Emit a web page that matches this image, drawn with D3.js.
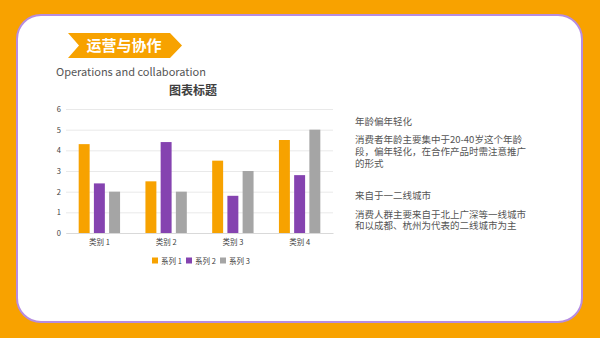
<!DOCTYPE html>
<html>
<head>
<meta charset="utf-8">
<title>运营与协作</title>
<script src="https://d3js.org/d3.v7.min.js"></script>
<style>
  body { margin: 0; background: #F8A200; font-family: "Noto Sans CJK SC", "Noto Sans", sans-serif; }
  svg { display: block; }
</style>
</head>
<body>
<div id="slide"></div>
<script>
// chart data
var categories = ["类别 1", "类别 2", "类别 3", "类别 4"];
var seriesNames = ["系列 1", "系列 2", "系列 3"];
var series1 = [4.3, 2.5, 3.5, 4.5];
var series2 = [2.4, 4.4, 1.8, 2.8];
var series3 = [2, 2, 3, 5];
var yTicks = [0, 1, 2, 3, 4, 5, 6];
var colors = ["#F7A200", "#8543B0", "#A5A5A5"];

var noteHeads = ["年龄偏年轻化", "来自于一二线城市"];
var noteBodies = [
  ["消费者年龄主要集中于20-40岁这个年龄", "段，偏年轻化，在合作产品时需注意推广", "的形式"],
  ["消费人群主要来自于北上广深等一线城市", "和以成都、杭州为代表的二线城市为主"]
];

var W = 600, H = 338;
var svg = d3.select("#slide").append("svg").attr("width", W).attr("height", H);

svg.append("rect").attr("width", W).attr("height", H).attr("fill", "#F8A200");

// white card with purple edge
svg.append("rect")
  .attr("x", 17).attr("y", 15).attr("width", 565).attr("height", 307)
  .attr("rx", 24).attr("ry", 24)
  .attr("fill", "#fff").attr("stroke", "#B68DE0").attr("stroke-width", 2);

// header banner
svg.append("polygon")
  .attr("points", "68,33 170,33 182,45.5 170,58 68,58 79,45.5")
  .attr("fill", "#F7A200");
svg.append("text").attr("x", 124).attr("y", 51)
  .attr("text-anchor", "middle").attr("fill", "#fff")
  .attr("font-size", 15).attr("font-weight", "bold")
  .text("运营与协作");
svg.append("text").attr("x", 56).attr("y", 76)
  .attr("fill", "#555").attr("font-size", 11)
  .text("Operations and collaboration");

// chart
var plotL = 66, plotR = 333, plotT = 109, plotB = 233;
var x = d3.scaleBand().domain(categories).range([plotL, plotR]).paddingInner(0.38).paddingOuter(0.19);
var xs = d3.scaleBand().domain(seriesNames).range([0, x.bandwidth()]).paddingInner(0.28);
var y = d3.scaleLinear().domain([0, 6]).range([plotB, plotT]);

svg.append("text").attr("x", 193).attr("y", 95)
  .attr("text-anchor", "middle").attr("fill", "#404040")
  .attr("font-size", 12).attr("font-weight", "bold")
  .text("图表标题");

var yAxis = svg.append("g").attr("transform", "translate(" + plotL + ",0)")
  .call(d3.axisLeft(y).tickValues(yTicks).tickSize(-(plotR - plotL)).tickFormat(d3.format("d")));
yAxis.select(".domain").remove();
yAxis.selectAll(".tick line").attr("stroke", "#E3E3E3").attr("stroke-width", 0.8);
yAxis.selectAll(".tick text").attr("x", -5).attr("fill", "#404040").attr("font-size", 7.5)
  .attr("font-family", "'Noto Sans CJK SC', sans-serif");

var xAxis = svg.append("g").attr("transform", "translate(0," + plotB + ")")
  .call(d3.axisBottom(x).tickSize(0).tickPadding(7));
xAxis.select(".domain").attr("stroke", "#D9D9D9");
xAxis.selectAll(".tick text").attr("fill", "#404040").attr("font-size", 7.5)
  .attr("font-family", "'Noto Sans CJK SC', sans-serif");

var table = categories.map(function (c, i) {
  return { cat: c, vals: [series1[i], series2[i], series3[i]] };
});

var groups = svg.selectAll("g.grp").data(table).enter().append("g")
  .attr("class", "grp")
  .attr("transform", function (d) { return "translate(" + x(d.cat) + ",0)"; });
groups.selectAll("rect").data(function (d) {
  return d.vals.map(function (v, j) { return { name: seriesNames[j], v: v, j: j }; });
}).enter().append("rect")
  .attr("x", function (d) { return xs(d.name); })
  .attr("y", function (d) { return y(d.v); })
  .attr("width", xs.bandwidth())
  .attr("height", function (d) { return plotB - y(d.v); })
  .attr("fill", function (d) { return colors[d.j]; });

// legend
var legend = svg.append("g").attr("transform", "translate(152,261)");
var lx = 0;
seriesNames.forEach(function (n, j) {
  legend.append("rect").attr("x", lx).attr("y", -3.5).attr("width", 6).attr("height", 6).attr("fill", colors[j]);
  legend.append("text").attr("x", lx + 9).attr("y", 2.5).attr("font-size", 7.5).attr("fill", "#404040").text(n);
  lx += 34;
});

// right-side notes
var ny = 124.5;
noteHeads.forEach(function (h, k) {
  svg.append("text").attr("x", 355).attr("y", ny).attr("font-size", 9.5).attr("fill", "#555").text(h);
  ny += 18.5;
  noteBodies[k].forEach(function (line) {
    svg.append("text").attr("x", 355).attr("y", ny).attr("font-size", 9.5).attr("fill", "#555").text(line);
    ny += 11.8;
  });
  ny += 20.7;
});
</script>
</body>
</html>
